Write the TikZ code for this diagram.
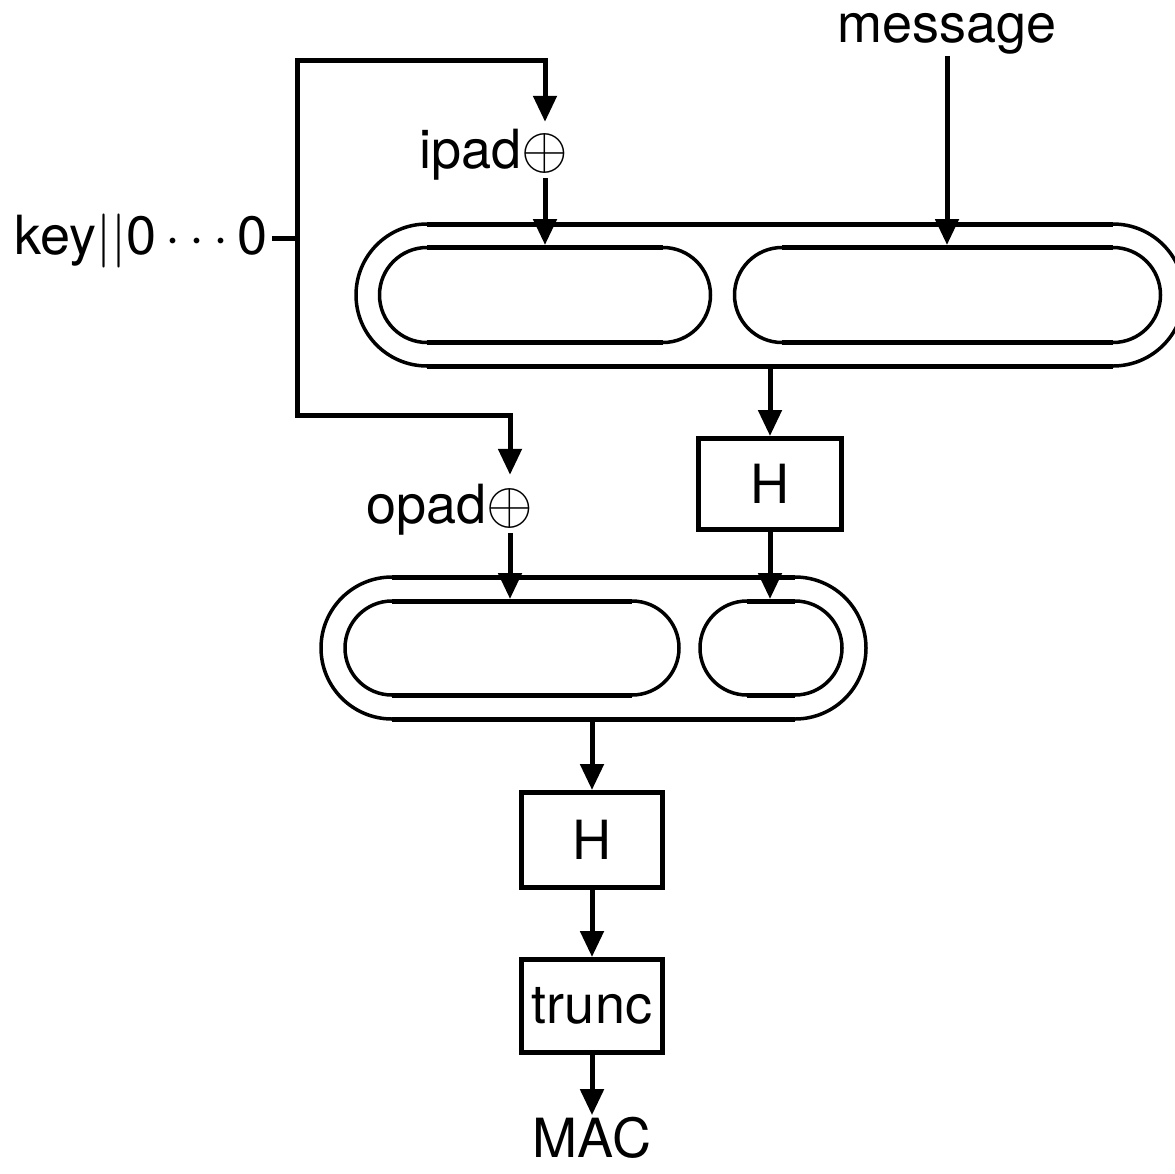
\documentclass[tikz,border=0pt]{standalone}
\usepackage{fontspec}
\setmainfont{TeX Gyre Heros}
\DeclareFontFamily{OMS}{cmsy}{\skewchar\font48 }
\DeclareFontShape{OMS}{cmsy}{m}{n}{<->cmsy10}{}
\DeclareFontFamily{OML}{cmm}{\skewchar\font127 }
\DeclareFontShape{OML}{cmm}{m}{it}{<->cmmi10}{}
\DeclareFontFamily{OMX}{cmex}{}
\DeclareFontShape{OMX}{cmex}{m}{n}{<->cmex10}{}
\usetikzlibrary{arrows.meta}
\begin{document}
\begin{tikzpicture}[x=1pt,y=-1pt,
  every node/.style={font=\fontsize{54}{64}\selectfont, inner sep=0pt},
  thk/.style={line width=5pt},
  thn/.style={line width=3.5pt},
  arr/.style={line width=5pt,-{Triangle[length=26pt,width=23pt]}},
  boxnode/.style={draw,line width=5pt,minimum width=143pt,minimum height=91pt},
  xornode/.style={font=\fontsize{60}{70}\selectfont}]
\useasboundingbox (0,0) rectangle (1175,1173);

% ---- upper capsule (outer) ----
\draw[thn] (427,224) arc[start angle=90,end angle=270,radius=71pt];
\draw[thn] (1113,224) arc[start angle=90,end angle=-90,radius=71pt];
\draw[thk] (427,224) -- (1113,224) (427,366) -- (1113,366);
% inner A
\draw[thn] (427,247.5) arc[start angle=90,end angle=270,radius=47.5pt];
\draw[thn] (663,247.5) arc[start angle=90,end angle=-90,radius=47.5pt];
\draw[thk] (427,247.5) -- (663,247.5) (427,342.5) -- (663,342.5);
% inner B
\draw[thn] (782,247.5) arc[start angle=90,end angle=270,radius=47.5pt];
\draw[thn] (1113,247.5) arc[start angle=90,end angle=-90,radius=47.5pt];
\draw[thk] (782,247.5) -- (1113,247.5) (782,342.5) -- (1113,342.5);

% ---- lower capsule (outer) ----
\draw[thn] (392,577) arc[start angle=90,end angle=270,radius=71pt];
\draw[thn] (795,577) arc[start angle=90,end angle=-90,radius=71pt];
\draw[thk] (392,577) -- (795,577) (392,719) -- (795,719);
% inner A
\draw[thn] (392,601) arc[start angle=90,end angle=270,radius=47pt];
\draw[thn] (632,601) arc[start angle=90,end angle=-90,radius=47pt];
\draw[thk] (392,601) -- (632,601) (392,695) -- (632,695);
% inner B
\draw[thn] (747,601) arc[start angle=90,end angle=270,radius=47pt];
\draw[thn] (795,601) arc[start angle=90,end angle=-90,radius=47pt];
\draw[thk] (747,601) -- (795,601) (747,695) -- (795,695);

% ---- coordinates ----
\coordinate (p1) at (545,245);
\coordinate (p2) at (947,245);
\coordinate (q1) at (770,366);
\coordinate (p3) at (510,599);
\coordinate (p4) at (770,599);
\coordinate (q2) at (592,719);
\coordinate (kj) at (297,238);
\coordinate (ct) at (545,60);
\coordinate (cb) at (510,415);

% ---- nodes ----
\node[anchor=base] (msg) at (947,42) {message};
\node[xornode] (x1) at (545,153) {$\oplus$};
\node[anchor=base east] (ipad) at (x1.base west) {ipad};
\node[xornode] (x2) at (510,508) {$\oplus$};
\node[anchor=base east] (opad) at (x2.base west) {opad};
\node[anchor=base east] (key) at (268,254) {key$||$0$\,\cdots\,$0};
\node[boxnode] (h1) at (770,484) {H};
\node[boxnode,minimum width=141pt,minimum height=95pt] (h2) at (592,840) {H};
\node[boxnode,minimum width=141pt,minimum height=93pt] (tr) at (592,1006) {trunc};
\node (mac) at (592,1138) {MAC};

% ---- connectors ----
\draw[thk,shorten <=4pt] (key.east |- kj) -- (kj);
\draw[arr,shorten >=11pt] (kj) |- (ct) -- (x1.north);
\draw[arr,shorten <=5pt] (x1.south) -- (p1);
\draw[arr,shorten >=13pt] (kj) |- (cb) -- (x2.north);
\draw[arr,shorten <=5pt] (x2.south) -- (p3);
\draw[arr,shorten <=2pt] (msg.south) -- (p2);
\draw[arr] (q1) -- (h1.north);
\draw[arr] (h1.south) -- (p4);
\draw[arr] (q2) -- (h2.north);
\draw[arr] (h2.south) -- (tr.north);
\draw[arr,shorten >=2pt] (tr.south) -- (mac.north);
\end{tikzpicture}
\end{document}
